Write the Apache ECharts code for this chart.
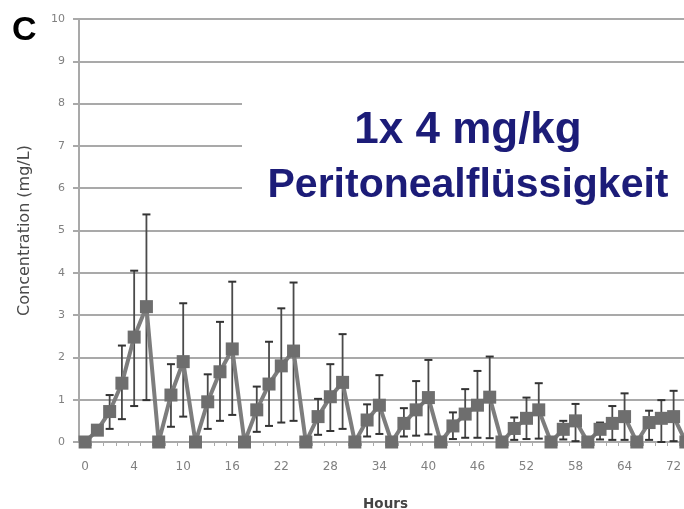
<!DOCTYPE html>
<html>
<head>
<meta charset="utf-8">
<script src="https://cdn.jsdelivr.net/npm/echarts@6/dist/echarts.min.js"></script>
<style>
  html, body { margin: 0; padding: 0; background: #ffffff; overflow: hidden; }
  #chart { width: 684px; height: 509px; }
</style>
</head>
<body>
<div id="chart"></div>
<script>
// Sampling times (hours); every 4th one is labelled on the axis
const hours = [0, 1, 2, 3, 4, 5.5, 7, 8.5, 10, 11.5, 13, 14.5, 16, 17.5, 19, 20.5, 22,
  23.5, 25, 26.5, 28, 29.5, 31, 32.5, 34, 35.5, 37, 38.5, 40, 41.5, 43, 44.5, 46,
  47.5, 49, 50.5, 52, 53.5, 55, 56.5, 58, 59.5, 61, 62.5, 64, 66, 68, 70, 72, 74];

// Mean concentration (mg/L)
const meanConc = [0, 0.28, 0.72, 1.39, 2.48, 3.2, 0, 1.11, 1.9, 0, 0.95, 1.66, 2.2, 0,
  0.76, 1.37, 1.8, 2.15, 0, 0.6, 1.07, 1.41, 0, 0.52, 0.87, 0, 0.44, 0.76, 1.05, 0,
  0.38, 0.66, 0.87, 1.06, 0, 0.32, 0.56, 0.76, 0, 0.3, 0.5, 0, 0.3, 0.44, 0.6, 0,
  0.46, 0.56, 0.6, 0];

// Upper and lower ends of the error bars (mg/L)
const upperConc = [null, null, 1.11, 2.28, 4.05, 5.38, null, 1.84, 3.28, null, 1.6, 2.84, 3.79, null,
  1.31, 2.37, 3.16, 3.77, null, 1.02, 1.84, 2.55, null, 0.89, 1.58, null, 0.8, 1.44, 1.94, null,
  0.7, 1.25, 1.68, 2.02, null, 0.58, 1.05, 1.39, null, 0.5, 0.9, null, 0.46, 0.85, 1.15, null,
  0.74, 0.99, 1.21, null];
const lowerConc = [null, null, 0.31, 0.54, 0.85, 0.99, null, 0.36, 0.6, null, 0.31, 0.5, 0.64, null,
  0.24, 0.38, 0.46, 0.5, null, 0.17, 0.26, 0.31, null, 0.13, 0.19, null, 0.13, 0.15, 0.18, null,
  0.07, 0.1, 0.1, 0.09, null, 0.05, 0.07, 0.08, null, 0.06, 0.02, null, 0.06, 0.05, 0.05, null,
  0.05, 0.0, 0.02, null];

const yTicks = [0, 1, 2, 3, 4, 5, 6, 7, 8, 9, 10];

const categories = hours.map(String);
const errData = [];
hours.forEach((h, i) => {
  if (upperConc[i] != null) errData.push([i, lowerConc[i], upperConc[i]]);
});

const chart = echarts.init(document.getElementById('chart'), null, { width: 684, height: 509 });
const gridColor = '#a9a9a9';

chart.setOption({
  animation: false,
  backgroundColor: '#ffffff',
  // plot area runs past the right edge of the canvas
  grid: { left: 79, top: 19, width: 613, height: 423, containLabel: false, outerBoundsMode: 'none' },
  xAxis: {
    type: 'category',
    data: categories,
    boundaryGap: true,
    name: 'Hours',
    nameLocation: 'middle',
    nameGap: 55,
    nameTextStyle: { fontFamily: 'DejaVu Sans', fontSize: 13.5, fontWeight: 'bold', color: '#444' },
    axisLine: { lineStyle: { color: gridColor, width: 2 } },
    axisTick: { show: true, interval: 0, length: 4, inside: false, lineStyle: { color: '#aaa', width: 1 } },
    axisLabel: {
      interval: 3, margin: 19, fontFamily: 'DejaVu Sans', fontSize: 12, color: '#808080'
    },
    splitLine: { show: false }
  },
  yAxis: {
    type: 'value',
    min: yTicks[0],
    max: yTicks[yTicks.length - 1],
    interval: 1,
    name: 'Concentration (mg/L)',
    nameLocation: 'middle',
    nameGap: 46,
    nameRotate: 90,
    nameTextStyle: { fontFamily: 'DejaVu Sans', fontSize: 16, color: '#4a4a4a' },
    axisLine: { show: true, lineStyle: { color: gridColor, width: 2 } },
    axisTick: { show: true, length: 6, lineStyle: { color: gridColor, width: 2 } },
    axisLabel: { margin: 14, fontFamily: 'DejaVu Sans', fontSize: 11, color: '#808080' },
    splitLine: { lineStyle: { color: gridColor, width: 2 } }
  },
  graphic: [
    { type: 'rect', z: 100, shape: { x: 242, y: 84, width: 460, height: 130 }, style: { fill: '#ffffff' } },
    { type: 'text', z: 101, left: 12, top: 14,
      style: { text: 'C', fontFamily: 'Liberation Sans', fontWeight: 'bold', fontSize: 34, fill: '#000' } },
    { type: 'text', z: 101, x: 468, y: 131,
      style: { text: '1x 4 mg/kg', fontFamily: 'Liberation Sans', fontWeight: 'bold', fontSize: 44,
               fill: '#1c1c78', align: 'center', verticalAlign: 'middle' } },
    { type: 'text', z: 101, x: 468, y: 186,
      style: { text: 'Peritonealflüssigkeit', fontFamily: 'Liberation Sans', fontWeight: 'bold', fontSize: 41,
               fill: '#1c1c78', align: 'center', verticalAlign: 'middle' } }
  ],
  series: [
    {
      type: 'custom',
      name: 'sd',
      data: errData,
      z: 3,
      renderItem: function (params, api) {
        const x = api.coord([api.value(0), 0])[0];
        const lo = api.coord([api.value(0), api.value(1)])[1];
        const hi = api.coord([api.value(0), api.value(2)])[1];
        const cap = 4;
        const capStyle = { stroke: '#333333', lineWidth: 2 };
        return {
          type: 'group',
          children: [
            { type: 'line', shape: { x1: x, y1: lo, x2: x, y2: hi }, style: { stroke: '#4a4a4a', lineWidth: 1.8 } },
            { type: 'line', shape: { x1: x - cap, y1: hi, x2: x + cap, y2: hi }, style: capStyle },
            { type: 'line', shape: { x1: x - cap, y1: lo, x2: x + cap, y2: lo }, style: capStyle }
          ]
        };
      }
    },
    {
      type: 'line',
      name: 'mean',
      data: meanConc,
      z: 4,
      symbol: 'rect',
      symbolSize: 13,
      showAllSymbol: true,
      lineStyle: { color: '#7d7d7d', width: 4 },
      itemStyle: { color: '#6e6e6e' }
    }
  ]
});
</script>
</body>
</html>
